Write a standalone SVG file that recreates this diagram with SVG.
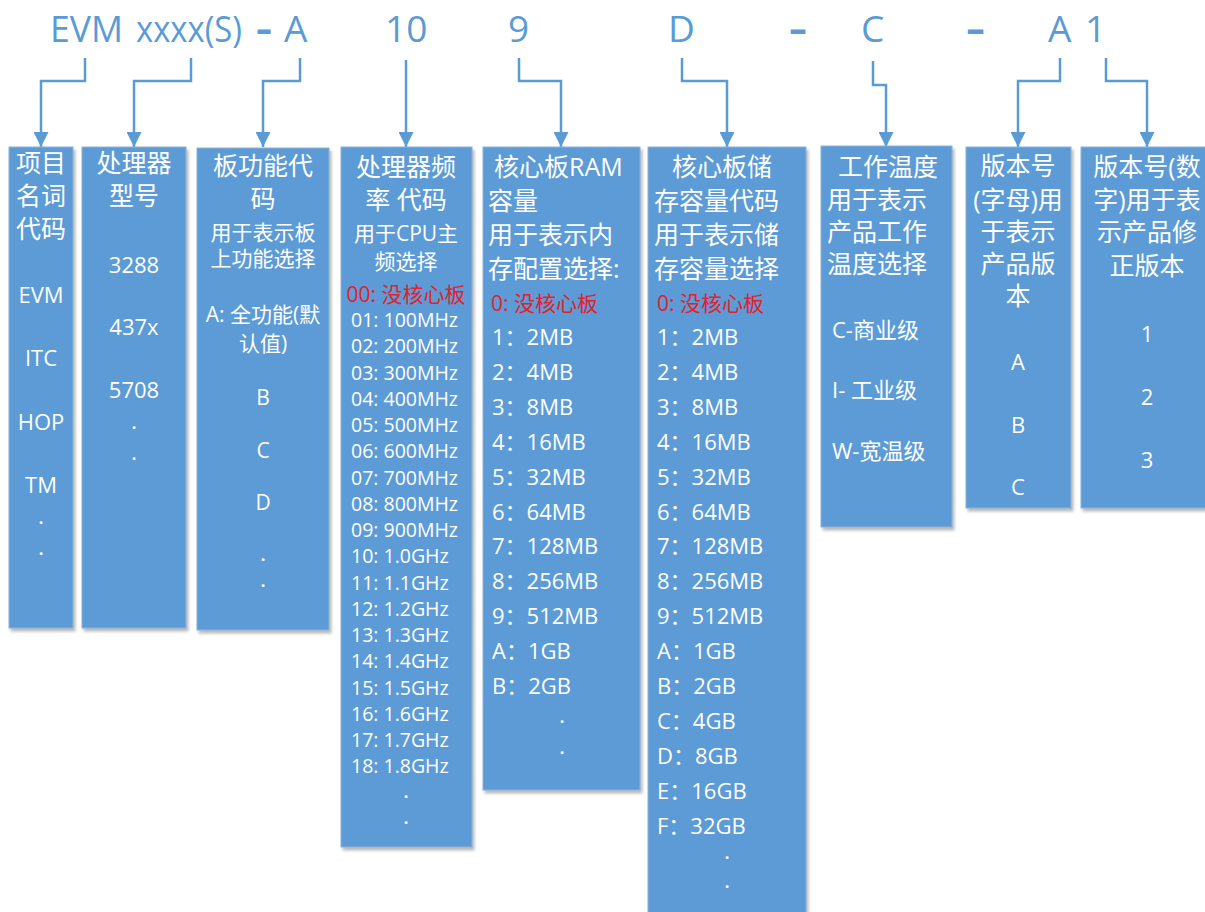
<svg xmlns="http://www.w3.org/2000/svg" width="1205" height="912" viewBox="0 0 1205 912">
<style>
text{font-family:"Open Sans","Noto Sans CJK SC",sans-serif;}
.hd{fill:#5B9BD5;font-size:37px;}
.dash{fill:#5B9BD5;font-size:37px;font-weight:700;}
.box{fill:#5B9BD5;stroke:#8fb2d8;stroke-width:1;filter:url(#sh);}
.t{fill:#fff;font-size:25px;}
.s{fill:#fff;font-size:21px;}
.m{fill:#fff;font-size:22px;}
.f{fill:#fff;font-size:19.5px;}
.d{fill:#fff;font-size:16px;font-weight:700;}
.r{fill:#e3202c;font-size:21px;}
.c{text-anchor:middle;}
.cn{fill:none;stroke:#5B9BD5;stroke-width:2.5;marker-end:url(#ah);}
</style>
<defs>
<marker id="ah" viewBox="0 0 15 15" markerWidth="15" markerHeight="15" markerUnits="userSpaceOnUse" refX="15" refY="7.5" orient="auto">
<path d="M0,0 L15,7.5 L0,15 z" fill="#5B9BD5"/>
</marker>
<filter id="sh" x="-10%" y="-5%" width="130%" height="115%">
<feDropShadow dx="2" dy="3" stdDeviation="1.5" flood-color="#808080" flood-opacity="0.55"/>
</filter>
</defs>
<rect width="1205" height="912" fill="#fff"/>

<g id="header">
<text class="hd" x="50" y="42" textLength="73" lengthAdjust="spacingAndGlyphs">EVM</text>
<text class="hd" x="136" y="42" textLength="106" lengthAdjust="spacingAndGlyphs">xxxx(S)</text>
<text class="dash" x="256" y="42" textLength="16" lengthAdjust="spacingAndGlyphs">-</text>
<text class="hd" x="284" y="42">A</text>
<text class="hd" x="385" y="42">10</text>
<text class="hd" x="508" y="42">9</text>
<text class="hd" x="668" y="42">D</text>
<text class="dash" x="789" y="42" textLength="18" lengthAdjust="spacingAndGlyphs">-</text>
<text class="hd" x="861" y="42">C</text>
<text class="dash" x="966" y="42" textLength="19" lengthAdjust="spacingAndGlyphs">-</text>
<text class="hd" x="1048" y="42">A</text>
<text class="hd" x="1085" y="42">1</text>
</g>

<g id="connectors">
<path class="cn" d="M85,58 V81 H41 V147"/>
<path class="cn" d="M191,58 V81 H134 V147"/>
<path class="cn" d="M300,58 V81 H263 V147"/>
<path class="cn" d="M406,60 V147"/>
<path class="cn" d="M519,58 V81 H561 V147"/>
<path class="cn" d="M682,58 V81 H727 V147"/>
<path class="cn" d="M873,61 V85 H886 V147"/>
<path class="cn" d="M1060,58 V81 H1018 V147"/>
<path class="cn" d="M1106,58 V81 H1147 V147"/>
</g>

<g id="box1">
<rect class="box" x="9" y="147" width="64" height="481"/>
<text class="t c" x="41" y="172">项目</text>
<text class="t c" x="41" y="205">名词</text>
<text class="t c" x="41" y="238">代码</text>
<text class="m c" x="41" y="303">EVM</text>
<text class="m c" x="41" y="366">ITC</text>
<text class="m c" x="41" y="430">HOP</text>
<text class="m c" x="41" y="493">TM</text>
<text class="d c" x="41" y="524">.</text>
<text class="d c" x="41" y="555">.</text>
</g>

<g id="box2">
<rect class="box" x="82" y="147" width="104" height="481"/>
<text class="t c" x="134" y="172">处理器</text>
<text class="t c" x="134" y="205">型号</text>
<text class="m c" x="134" y="273">3288</text>
<text class="m c" x="134" y="335">437x</text>
<text class="m c" x="134" y="398">5708</text>
<text class="d c" x="134" y="429">.</text>
<text class="d c" x="134" y="460">.</text>
</g>

<g id="box3">
<rect class="box" x="197" y="148" width="132" height="482"/>
<text class="t c" x="263" y="175">板功能代</text>
<text class="t c" x="263" y="208">码</text>
<text class="s c" x="263" y="240">用于表示板</text>
<text class="s c" x="263" y="266">上功能选择</text>
<text class="s c" x="263" y="322">A: 全功能(默</text>
<text class="s c" x="263" y="351">认值)</text>
<text class="s c" x="263" y="405">B</text>
<text class="s c" x="263" y="458">C</text>
<text class="s c" x="263" y="510">D</text>
<text class="d c" x="263" y="561">.</text>
<text class="d c" x="263" y="587">.</text>
</g>

<g id="box4">
<rect class="box" x="341" y="147" width="131" height="700"/>
<text class="t c" x="406" y="176">处理器频</text>
<text class="t c" x="406" y="209">率 代码</text>
<text class="s c" x="406" y="241">用于CPU主</text>
<text class="s c" x="406" y="269">频选择</text>
<text class="r c" x="406" y="302">00: 没核心板</text>
<text class="f" x="351" y="327">01: 100MHz</text>
<text class="f" x="351" y="353.3">02: 200MHz</text>
<text class="f" x="351" y="379.5">03: 300MHz</text>
<text class="f" x="351" y="405.8">04: 400MHz</text>
<text class="f" x="351" y="432">05: 500MHz</text>
<text class="f" x="351" y="458.3">06: 600MHz</text>
<text class="f" x="351" y="484.5">07: 700MHz</text>
<text class="f" x="351" y="510.8">08: 800MHz</text>
<text class="f" x="351" y="537">09: 900MHz</text>
<text class="f" x="351" y="563.3">10: 1.0GHz</text>
<text class="f" x="351" y="589.5">11: 1.1GHz</text>
<text class="f" x="351" y="615.8">12: 1.2GHz</text>
<text class="f" x="351" y="642">13: 1.3GHz</text>
<text class="f" x="351" y="668.3">14: 1.4GHz</text>
<text class="f" x="351" y="694.5">15: 1.5GHz</text>
<text class="f" x="351" y="720.8">16: 1.6GHz</text>
<text class="f" x="351" y="747">17: 1.7GHz</text>
<text class="f" x="351" y="773.3">18: 1.8GHz</text>
<text class="d c" x="406" y="798">.</text>
<text class="d c" x="406" y="824">.</text>
</g>

<g id="box5">
<rect class="box" x="483" y="147" width="157" height="643"/>
<text class="t" x="494" y="176">核心板RAM</text>
<text class="t" x="488" y="210">容量</text>
<text class="t" x="488" y="244">用于表示内</text>
<text class="t" x="488" y="278">存配置选择:</text>
<text class="r" x="491" y="311">0: 没核心板</text>
<text class="m" x="492" y="345">1：2MB</text>
<text class="m" x="492" y="379.9">2：4MB</text>
<text class="m" x="492" y="414.8">3：8MB</text>
<text class="m" x="492" y="449.7">4：16MB</text>
<text class="m" x="492" y="484.6">5：32MB</text>
<text class="m" x="492" y="519.5">6：64MB</text>
<text class="m" x="492" y="554.4">7：128MB</text>
<text class="m" x="492" y="589.3">8：256MB</text>
<text class="m" x="492" y="624.2">9：512MB</text>
<text class="m" x="492" y="659.1">A：1GB</text>
<text class="m" x="492" y="694">B：2GB</text>
<text class="d c" x="562" y="723">.</text>
<text class="d c" x="562" y="754">.</text>
</g>

<g id="box6">
<rect class="box" x="648" y="147" width="158" height="770"/>
<text class="t" x="672" y="176">核心板储</text>
<text class="t" x="654" y="210">存容量代码</text>
<text class="t" x="654" y="244">用于表示储</text>
<text class="t" x="654" y="278">存容量选择</text>
<text class="r" x="657" y="311">0: 没核心板</text>
<text class="m" x="657" y="345">1：2MB</text>
<text class="m" x="657" y="379.9">2：4MB</text>
<text class="m" x="657" y="414.8">3：8MB</text>
<text class="m" x="657" y="449.7">4：16MB</text>
<text class="m" x="657" y="484.6">5：32MB</text>
<text class="m" x="657" y="519.5">6：64MB</text>
<text class="m" x="657" y="554.4">7：128MB</text>
<text class="m" x="657" y="589.3">8：256MB</text>
<text class="m" x="657" y="624.2">9：512MB</text>
<text class="m" x="657" y="659.1">A：1GB</text>
<text class="m" x="657" y="694">B：2GB</text>
<text class="m" x="657" y="728.9">C：4GB</text>
<text class="m" x="657" y="763.8">D：8GB</text>
<text class="m" x="657" y="798.7">E：16GB</text>
<text class="m" x="657" y="833.6">F：32GB</text>
<text class="d c" x="727" y="859">.</text>
<text class="d c" x="727" y="888">.</text>
</g>

<g id="box7">
<rect class="box" x="821" y="146" width="131" height="381"/>
<text class="t" x="838" y="176">工作温度</text>
<text class="t" x="827" y="209">用于表示</text>
<text class="t" x="827" y="241">产品工作</text>
<text class="t" x="827" y="273">温度选择</text>
<text class="m" x="832" y="338">C-商业级</text>
<text class="m" x="832" y="398">I- 工业级</text>
<text class="m" x="832" y="459">W-宽温级</text>
</g>

<g id="box8">
<rect class="box" x="966" y="147" width="105" height="361"/>
<text class="t c" x="1018" y="175">版本号</text>
<text class="t c" x="1018" y="209">(字母)用</text>
<text class="t c" x="1018" y="241">于表示</text>
<text class="t c" x="1018" y="273">产品版</text>
<text class="t c" x="1018" y="305">本</text>
<text class="m c" x="1018" y="370">A</text>
<text class="m c" x="1018" y="433">B</text>
<text class="m c" x="1018" y="495">C</text>
</g>

<g id="box9">
<rect class="box" x="1081" y="147" width="132" height="361"/>
<text class="t c" x="1147" y="176">版本号(数</text>
<text class="t c" x="1147" y="209">字)用于表</text>
<text class="t c" x="1147" y="241">示产品修</text>
<text class="t c" x="1147" y="275">正版本</text>
<text class="m c" x="1147" y="342">1</text>
<text class="m c" x="1147" y="405">2</text>
<text class="m c" x="1147" y="468">3</text>
</g>
</svg>
